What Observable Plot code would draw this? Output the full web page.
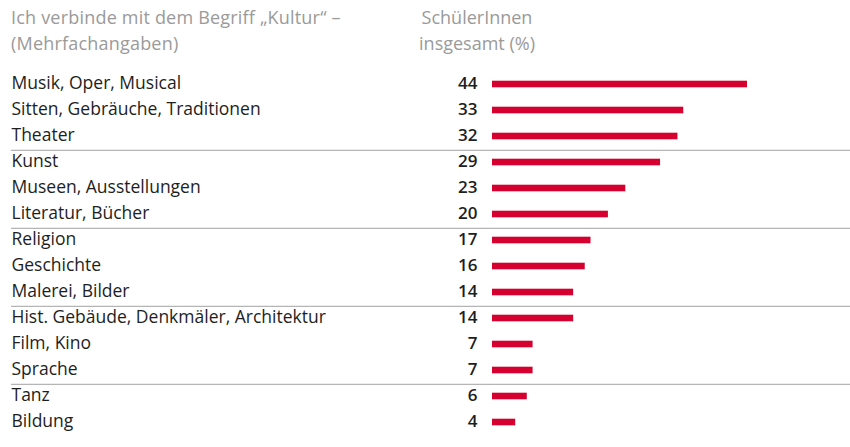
<!DOCTYPE html>
<html>
<head>
<meta charset="utf-8">
<script src="https://cdn.jsdelivr.net/npm/d3@7"></script>
<script src="https://cdn.jsdelivr.net/npm/@observablehq/plot@0.6"></script>
<style>
  html, body { margin: 0; padding: 0; background: #fff; }
  body { width: 850px; height: 447px; overflow: hidden; font-family: "Open Sans", sans-serif; }
  #header { position: relative; height: 62px; color: #9a9a9a; font-size: 18px; line-height: 26px; }
  #h-left { position: absolute; left: 11px; top: 4px; letter-spacing: 0.2px; }
  #h-right { position: absolute; left: 377px; width: 200px; top: 4px; text-align: center; }
  svg { display: block; }
</style>
</head>
<body>
<div id="header">
  <div id="h-left">Ich verbinde mit dem Begriff „Kultur“ –<br>(Mehrfachangaben)</div>
  <div id="h-right">SchülerInnen<br>insgesamt (%)</div>
</div>
<div id="chart"></div>
<script>
const categories = [
  "Musik, Oper, Musical",
  "Sitten, Gebräuche, Traditionen",
  "Theater",
  "Kunst",
  "Museen, Ausstellungen",
  "Literatur, Bücher",
  "Religion",
  "Geschichte",
  "Malerei, Bilder",
  "Hist. Gebäude, Denkmäler, Architektur",
  "Film, Kino",
  "Sprache",
  "Tanz",
  "Bildung"
];
const values = [44, 33, 32, 29, 23, 20, 17, 16, 14, 14, 7, 7, 6, 4];
const groupStarts = ["Kunst", "Religion", "Hist. Gebäude, Denkmäler, Architektur", "Tanz"];

const data = categories.map((c, i) => ({category: c, value: values[i]}));

const chart = Plot.plot({
  width: 850,
  height: 385,
  marginLeft: 11,
  marginRight: 0,
  marginTop: 0,
  marginBottom: 0,
  style: {fontFamily: "'Open Sans', sans-serif", background: "#fff"},
  x: {domain: [0, 44], range: [492, 747], axis: null},
  y: {domain: categories, range: [6, 376.2], padding: 0, axis: null},
  marks: [
    Plot.ruleY(groupStarts, {y: d => d, stroke: "#b5b5b5", strokeWidth: 1.3, dy: -12.2}),
    Plot.barX(data, {y: "category", x: "value", fill: "#d5002f", insetTop: 9.7, insetBottom: 9.7}),
    Plot.text(data, {y: "category", text: "category", frameAnchor: "left", textAnchor: "start", fill: "#1e1e1e", fontSize: 17.5, dy: -1}),
    Plot.text(data, {y: "category", x: 0, text: d => String(d.value), textAnchor: "end", dx: -15, dy: -1, fill: "#1e1e1e", fontSize: 17, fontWeight: 600})
  ]
});
document.getElementById("chart").appendChild(chart);
</script>
</body>
</html>
